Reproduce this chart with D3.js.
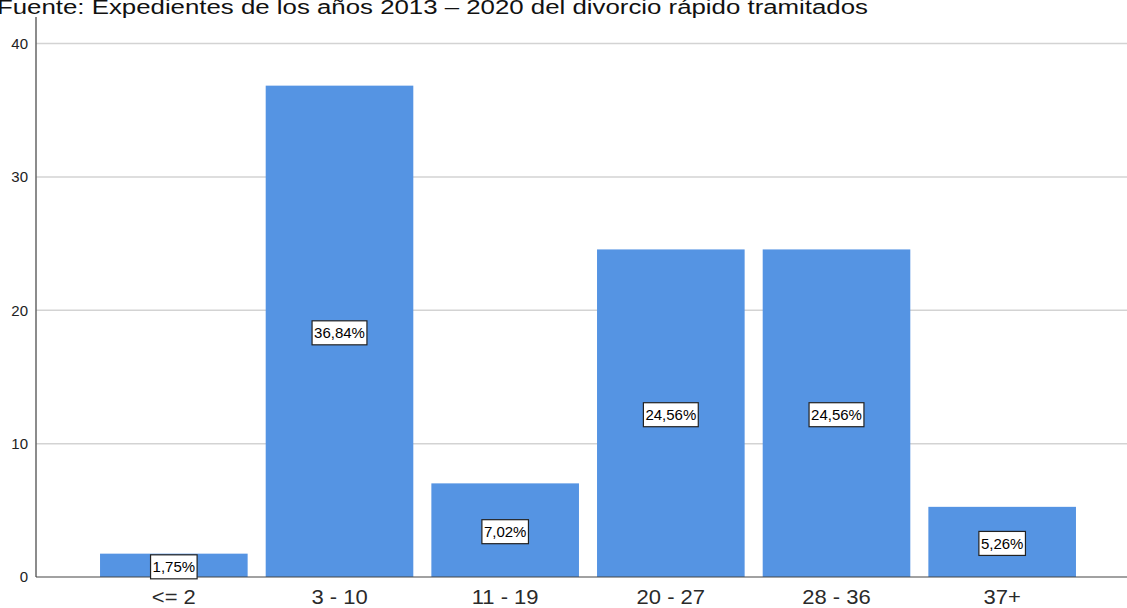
<!DOCTYPE html>
<html>
<head>
<meta charset="utf-8">
<script src="https://cdn.jsdelivr.net/npm/d3@7/dist/d3.min.js"></script>
<style>
  html, body { margin: 0; padding: 0; background: #fff; }
  svg { display: block; font-family: "Liberation Sans", Arial, sans-serif; }
</style>
</head>
<body>
<svg id="chart" width="1127" height="608"></svg>
<script>
// Age groups (years) and share of cases in each group (%)
const categories = ["<= 2", "3 - 10", "11 - 19", "20 - 27", "28 - 36", "37+"];
const percents = [1.75, 36.84, 7.02, 24.56, 24.56, 5.26];
const yTicks = [0, 10, 20, 30, 40];
const caption = "Fuente: Expedientes de los años 2013 – 2020 del divorcio rápido tramitados";

const svg = d3.select("#chart");
const W = 1127, H = 608;
const axisX = 36;

const x = d3.scaleBand()
  .domain(categories)
  .range([91, 1085])
  .paddingInner(0.109)
  .paddingOuter(0.0545);

const y = d3.scaleLinear()
  .domain([0, 40])
  .range([577, 43.5]);

// Caption along the top edge
svg.append("text")
  .attr("x", -3)
  .attr("y", 14)
  .attr("font-size", 20)
  .attr("fill", "#111")
  .attr("textLength", 871)
  .attr("lengthAdjust", "spacingAndGlyphs")
  .text(caption);

// Horizontal gridlines
svg.append("g")
  .selectAll("line")
  .data(yTicks.filter(d => d > 0))
  .join("line")
  .attr("x1", axisX)
  .attr("x2", W)
  .attr("y1", d => y(d))
  .attr("y2", d => y(d))
  .attr("stroke", "#d3d3d3")
  .attr("stroke-width", 1.5);

// Bars
svg.append("g")
  .selectAll("rect")
  .data(categories)
  .join("rect")
  .attr("x", d => x(d))
  .attr("width", x.bandwidth())
  .attr("y", (d, i) => y(percents[i]))
  .attr("height", (d, i) => y(0) - y(percents[i]))
  .attr("fill", "#5594e3");

// Y axis
const yAxis = d3.axisLeft(y).tickValues(yTicks).tickSize(0).tickPadding(8);
const gy = svg.append("g")
  .attr("transform", `translate(${axisX},0)`)
  .call(yAxis);
gy.select(".domain").remove();
gy.selectAll("text")
  .attr("font-size", 15)
  .attr("font-family", "Liberation Sans, Arial, sans-serif")
  .attr("fill", "#222");

svg.append("line")
  .attr("x1", axisX).attr("x2", axisX)
  .attr("y1", 17).attr("y2", y(0))
  .attr("stroke", "#666").attr("stroke-width", 1.5);

svg.append("line")
  .attr("x1", axisX).attr("x2", W)
  .attr("y1", y(0)).attr("y2", y(0))
  .attr("stroke", "#444").attr("stroke-width", 1.2);

// X axis: category labels, slightly widened
const xAxis = d3.axisBottom(x).tickSize(0).tickPadding(0);
const gx = svg.append("g")
  .attr("transform", `translate(0,${y(0)})`)
  .call(xAxis);
gx.select(".domain").remove();
gx.selectAll("text")
  .attr("y", 27)
  .attr("dy", null)
  .attr("font-size", 20)
  .attr("font-family", "Liberation Sans, Arial, sans-serif")
  .attr("fill", "#2a2a2a")
  .attr("transform", "scale(1.1,1)");

// Value labels in boxes at the middle of each bar
const fmt = v => v.toFixed(2).replace(".", ",") + "%";
const labels = svg.append("g")
  .selectAll("g")
  .data(categories)
  .join("g")
  .attr("transform", (d, i) => {
    const cy = (y(percents[i]) + y(0)) / 2 + 1.5;
    return `translate(${x(d) + x.bandwidth() / 2},${cy})`;
  });

labels.append("text")
  .attr("text-anchor", "middle")
  .attr("dy", "0.36em")
  .attr("font-size", 15)
  .attr("fill", "#000")
  .text((d, i) => fmt(percents[i]))
  .each(function () {
    const b = this.getBBox();
    d3.select(this.parentNode).insert("rect", "text")
      .attr("x", b.x - 2)
      .attr("y", -12)
      .attr("width", b.width + 4)
      .attr("height", 24)
      .attr("fill", "#fff")
      .attr("stroke", "#222")
      .attr("stroke-width", 1.2);
  });
</script>
</body>
</html>
